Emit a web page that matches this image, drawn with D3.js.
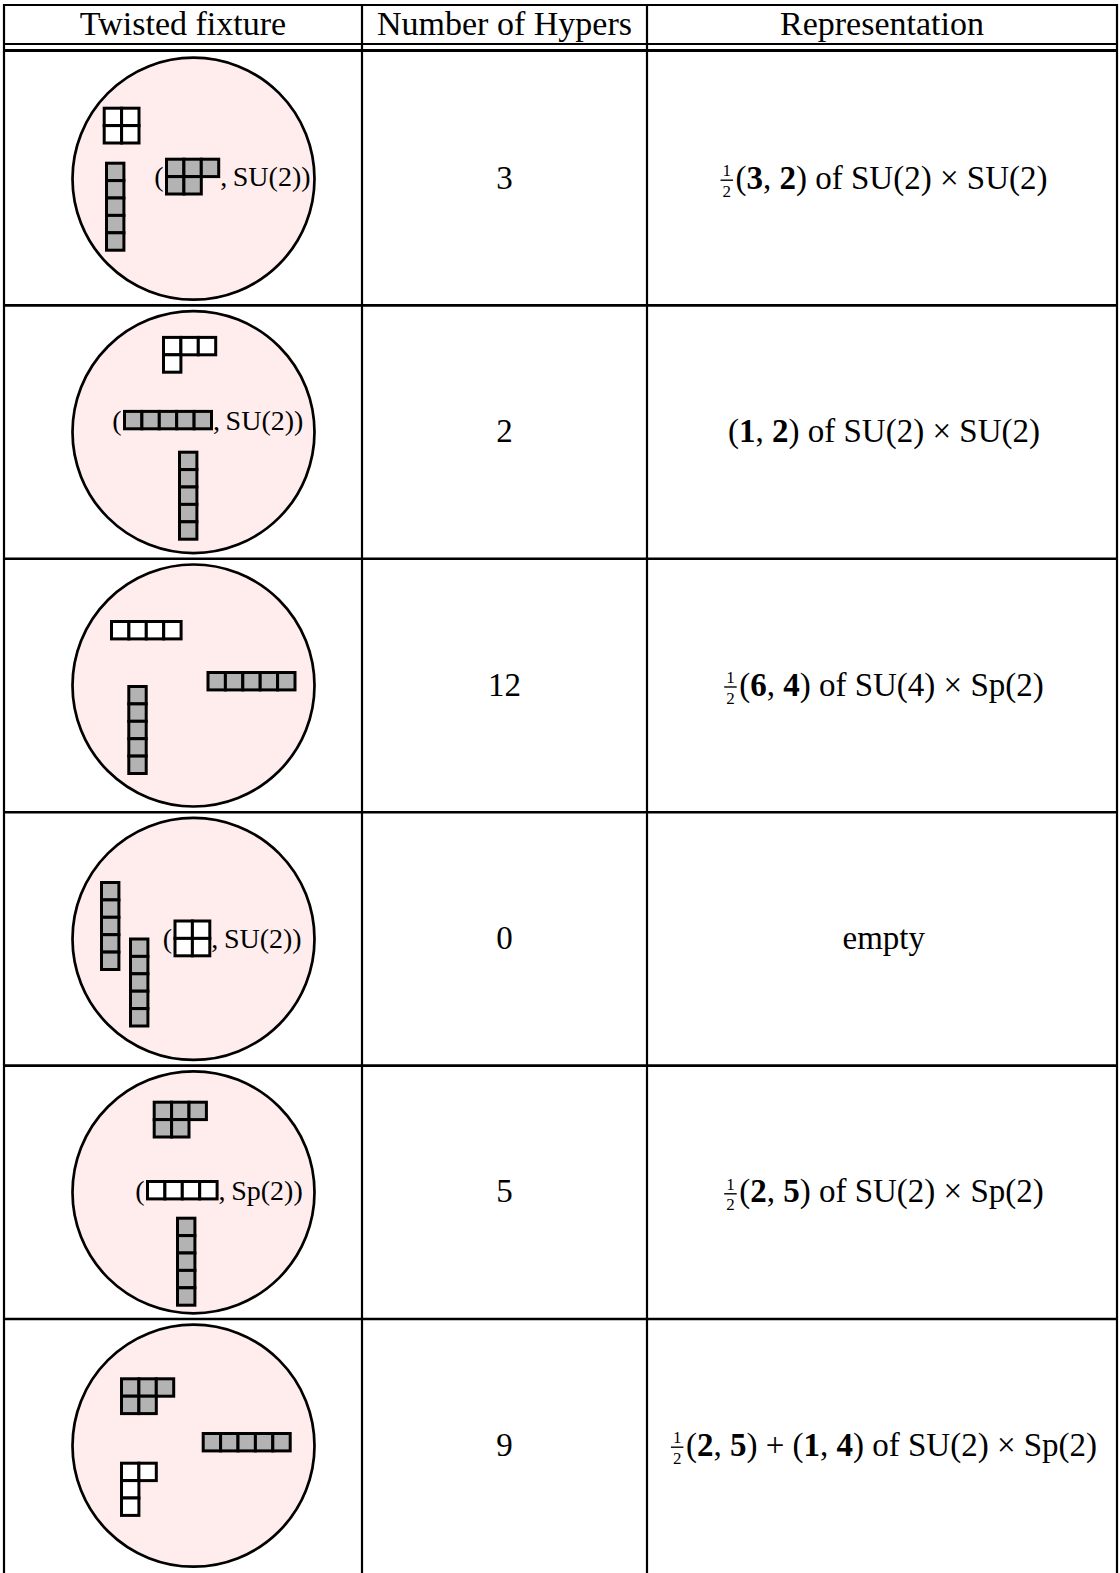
<!DOCTYPE html>
<html>
<head>
<meta charset="utf-8">
<script src="https://cdn.jsdelivr.net/npm/d3@7"></script>
<style>
  html, body { margin: 0; padding: 0; background: #fff; }
  svg { display: block; }
  text { font-family: "Liberation Serif", "Times New Roman", serif; fill: #000; }
</style>
</head>
<body>
<svg id="chart" width="1120" height="1573"></svg>
<script>
// ---------- data ----------
const headers = ["Twisted fixture", "Number of Hypers", "Representation"];
const hypers = [3, 2, 12, 0, 5, 9];

// Young diagrams in each fixture: shape = row lengths, shaded = grey boxes,
// group = flavour group when the diagram is paired with a group label
const fixtureDiagrams = [
  [ {shape: [2, 2], shaded: false}, {shape: [1, 1, 1, 1, 1], shaded: true}, {shape: [3, 2], shaded: true, group: "SU(2)"} ],
  [ {shape: [3, 1], shaded: false}, {shape: [5], shaded: true, group: "SU(2)"}, {shape: [1, 1, 1, 1, 1], shaded: true} ],
  [ {shape: [4], shaded: false}, {shape: [5], shaded: true}, {shape: [1, 1, 1, 1, 1], shaded: true} ],
  [ {shape: [1, 1, 1, 1, 1], shaded: true}, {shape: [1, 1, 1, 1, 1], shaded: true}, {shape: [2, 2], shaded: false, group: "SU(2)"} ],
  [ {shape: [3, 2], shaded: true}, {shape: [4], shaded: false, group: "Sp(2)"}, {shape: [1, 1, 1, 1, 1], shaded: true} ],
  [ {shape: [3, 2], shaded: true}, {shape: [5], shaded: true}, {shape: [2, 1, 1], shaded: false} ]
];

// representation text segments: "half" = 1/2 prefactor, {b: ...} = bold
const representations = [
  ["half", "(", {b: "3"}, ", ", {b: "2"}, ") of SU(2) × SU(2)"],
  ["(", {b: "1"}, ", ", {b: "2"}, ") of SU(2) × SU(2)"],
  ["half", "(", {b: "6"}, ", ", {b: "4"}, ") of SU(4) × Sp(2)"],
  ["empty"],
  ["half", "(", {b: "2"}, ", ", {b: "5"}, ") of SU(2) × Sp(2)"],
  ["half", "(", {b: "2"}, ", ", {b: "5"}, ") + (", {b: "1"}, ", ", {b: "4"}, ") of SU(2) × Sp(2)"]
];

// ---------- layout ----------
// top-left corner of each diagram: x absolute, y relative to row top
const diagramLayout = [
  [[104.2, 56.2], [106.5, 111.2], [166.5, 107.2]],
  [[163.5, 32.0], [124.5, 106.0], [179.5, 146.8]],
  [[111.5, 62.7], [208.0, 113.7], [128.8, 127.7]],
  [[101.5, 70.3], [130.5, 126.8], [175.0, 108.8]],
  [[154.2, 36.6], [147.5, 115.9], [177.5, 152.6]],
  [[121.5, 59.8], [203.2, 114.5], [121.5, 144.2]]
];

const W = 1120, H = 1573;
const colEdges = [4, 362, 647, 1117];
const headerTop = 5, headerBottom = 44, doubleLine = 50.5;
const tableTop = 52, rowH = 253.4;
const CELL = 17.4;
const circleCx = 193.5, circleR = 121;
const FONT = 33;

const svg = d3.select("#chart");

const rowScale = d3.scaleBand()
  .domain(d3.range(hypers.length))
  .range([tableTop, tableTop + rowH * hypers.length])
  .padding(0);
const colScale = d3.scaleOrdinal()
  .domain([0, 1, 2])
  .range([0, 1, 2].map(i => (colEdges[i] + colEdges[i + 1]) / 2));
const rowCenter = i => rowScale(i) + rowScale.bandwidth() / 2;

// ---------- header ----------
svg.append("g").selectAll("text").data(headers).join("text")
  .attr("x", (d, i) => colScale(i))
  .attr("y", 35)
  .attr("text-anchor", "middle")
  .attr("font-size", 34)
  .text(d => d);

// ---------- fixtures (circles + Young diagrams) ----------
const fix = svg.append("g").selectAll("g.fix").data(fixtureDiagrams).join("g")
  .attr("class", "fix");

fix.append("circle")
  .attr("cx", circleCx)
  .attr("cy", (d, i) => rowCenter(i))
  .attr("r", circleR)
  .attr("fill", "#ffeded")
  .attr("stroke", "#000")
  .attr("stroke-width", 2.7);

fix.each(function(diagrams, ri) {
  const g = d3.select(this);
  const top = rowScale(ri);
  diagrams.forEach((dg, di) => {
    const [x0, ry] = diagramLayout[ri][di];
    const y0 = top + ry;
    const cells = dg.shape.flatMap((len, r) => d3.range(len).map(c => ({r, c})));
    g.append("g").selectAll("rect").data(cells).join("rect")
      .attr("x", d => x0 + d.c * CELL)
      .attr("y", d => y0 + d.r * CELL)
      .attr("width", CELL)
      .attr("height", CELL)
      .attr("fill", dg.shaded ? "#b3b3b3" : "#ffffff")
      .attr("stroke", "#000")
      .attr("stroke-width", 3);
    if (dg.group) {
      const w = d3.max(dg.shape) * CELL;
      const h = dg.shape.length * CELL;
      const base = y0 + h / 2 + 9.5;
      g.append("text")
        .attr("x", x0 - 3)
        .attr("y", base)
        .attr("text-anchor", "end")
        .attr("font-size", 28)
        .text("(");
      g.append("text")
        .attr("x", x0 + w + 1.5)
        .attr("y", base)
        .attr("font-size", 28)
        .text(",\u2009" + dg.group + ")");
    }
  });
});

// ---------- number of hypers ----------
svg.append("g").selectAll("text").data(hypers).join("text")
  .attr("x", colScale(1))
  .attr("y", (d, i) => rowCenter(i) + 10)
  .attr("text-anchor", "middle")
  .attr("font-size", FONT)
  .text(d => d);

// ---------- representations ----------
const repG = svg.append("g").selectAll("g.rep").data(representations).join("g")
  .attr("class", "rep");

repG.each(function(segs, ri) {
  const g = d3.select(this);
  const inner = g.append("g");
  const hasHalf = segs[0] === "half";
  // one text element holds the 1/2 prefactor (as stacked tspans) and the rest
  const t = inner.append("text").attr("font-size", FONT)
    .attr("xml:space", "preserve").style("white-space", "pre");
  if (hasHalf) {
    t.append("tspan").attr("x", 3).attr("y", -12.5).attr("font-size", 17).text("1");
    t.append("tspan").attr("x", 3).attr("y", 8).attr("font-size", 17).text("2");
    inner.append("line").attr("x1", 1).attr("x2", 13.5).attr("y1", -8.5).attr("y2", -8.5)
      .attr("stroke", "#000").attr("stroke-width", 1.4);
  }
  let first = true;
  segs.filter(s => s !== "half").forEach(s => {
    const sp = t.append("tspan");
    if (first) { sp.attr("x", hasHalf ? 16 : 0).attr("y", 0); first = false; }
    if (typeof s === "string") sp.text(s);
    else sp.attr("font-weight", "bold").text(s.b);
  });
  const bb = inner.node().getBBox();
  const cx = colScale(2) + 2;
  g.attr("transform", `translate(${cx - (bb.x + bb.width / 2)},${rowCenter(ri) + 10})`);
});

// ---------- grid lines ----------
const grid = svg.append("g");
const hLines = [
  {y: headerTop, w: 2.2},
  {y: headerBottom, w: 2.2},
  {y: doubleLine, w: 3.2},
  ...d3.range(1, hypers.length).map(i => ({y: rowScale(i), w: 2.6}))
];
grid.selectAll("line.h").data(hLines).join("line")
  .attr("class", "h")
  .attr("x1", colEdges[0] - 1).attr("x2", colEdges[3] + 1)
  .attr("y1", d => d.y).attr("y2", d => d.y)
  .attr("stroke", "#000").attr("stroke-width", d => d.w);
grid.selectAll("line.v").data(colEdges).join("line")
  .attr("class", "v")
  .attr("x1", d => d).attr("x2", d => d)
  .attr("y1", headerTop - 1).attr("y2", H)
  .attr("stroke", "#000").attr("stroke-width", 2.2);
</script>
</body>
</html>
